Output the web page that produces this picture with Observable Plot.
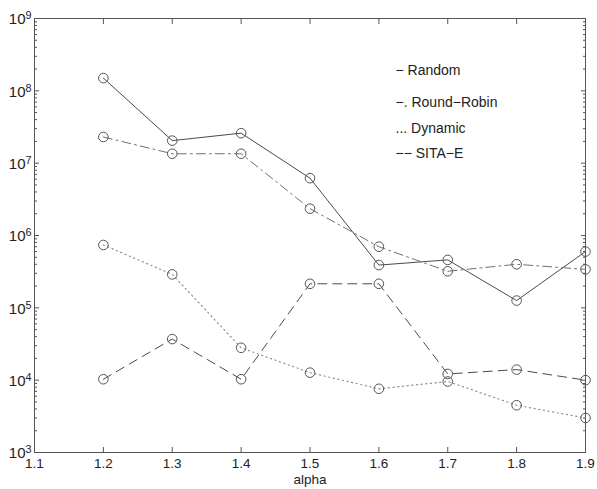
<!DOCTYPE html>
<html>
<head>
<meta charset="utf-8">
<script src="https://cdn.jsdelivr.net/npm/d3@7"></script>
<script src="https://cdn.jsdelivr.net/npm/@observablehq/plot@0.6"></script>
<style>
  html, body { margin: 0; padding: 0; background: #fff; }
  #chart svg { display: block; }
</style>
</head>
<body>
<div id="chart"></div>
<script>
// ---- data ----
const alpha = [1.2, 1.3, 1.4, 1.5, 1.6, 1.7, 1.8, 1.9];
const seriesNames = ["Random", "Round-Robin", "Dynamic", "SITA-E"];
const randomVals = [1.5e8, 2.05e7, 2.6e7, 6.2e6, 3.9e5, 4.6e5, 1.26e5, 6.0e5];
const roundRobinVals = [2.3e7, 1.35e7, 1.35e7, 2.35e6, 7.0e5, 3.2e5, 4.0e5, 3.4e5];
const dynamicVals = [7.4e5, 2.9e5, 2.8e4, 1.27e4, 7.6e3, 9.6e3, 4.5e3, 3.0e3];
const sitaVals = [1.03e4, 3.7e4, 1.03e4, 2.15e5, 2.15e5, 1.22e4, 1.4e4, 1.0e4];
const xTicks = [1.1, 1.2, 1.3, 1.4, 1.5, 1.6, 1.7, 1.8, 1.9];
const yTicks = [1e3, 1e4, 1e5, 1e6, 1e7, 1e8, 1e9];
const legendLabels = ["\u2212 Random", "\u2212. Round\u2212Robin", "... Dynamic", "\u2212\u2212 SITA\u2212E"];

// ---- build table ----
const valueSets = [randomVals, roundRobinVals, dynamicVals, sitaVals];
const rows = [];
seriesNames.forEach((name, i) => {
  alpha.forEach((a, j) => rows.push({series: name, alpha: a, value: valueSets[i][j]}));
});
const yMinor = [];
for (let k = 3; k < 9; k++) for (let m = 2; m <= 9; m++) yMinor.push(m * Math.pow(10, k));

const styles = {
  "Random": {stroke: "#4a4a4a", dash: null, width: 1},
  "Round-Robin": {stroke: "#707070", dash: "9,4,2,4", width: 1},
  "Dynamic": {stroke: "#909090", dash: "1.2,3.5", width: 1.2},
  "SITA-E": {stroke: "#4a4a4a", dash: "9,6", width: 1}
};

const font = "Liberation Sans, Arial, sans-serif";
const axisColor = "#555";
const T = 5, t = 3;
const blank = () => "";

const marks = [
  Plot.frame({stroke: axisColor, strokeWidth: 1}),
  ...seriesNames.map(name => Plot.line(rows.filter(r => r.series === name), {
    x: "alpha", y: "value", stroke: styles[name].stroke,
    strokeDasharray: styles[name].dash, strokeWidth: styles[name].width
  })),
  Plot.dot(rows, {x: "alpha", y: "value", r: 4.8, stroke: "#555", fill: "none", strokeWidth: 1}),
  // inward ticks (outward ticks shifted inside the frame)
  Plot.axisX({anchor: "bottom", ticks: xTicks, tickSize: T, dy: -T, tickFormat: blank, stroke: axisColor, label: null}),
  Plot.axisX({anchor: "top", ticks: xTicks, tickSize: T, dy: T, tickFormat: blank, stroke: axisColor, label: null}),
  Plot.axisY({anchor: "left", ticks: yTicks, tickSize: T, dx: T, tickFormat: blank, stroke: axisColor, label: null}),
  Plot.axisY({anchor: "right", ticks: yTicks, tickSize: T, dx: -T, tickFormat: blank, stroke: axisColor, label: null}),
  Plot.axisY({anchor: "left", ticks: yMinor, tickSize: t, dx: t, tickFormat: blank, stroke: axisColor, label: null}),
  Plot.axisY({anchor: "right", ticks: yMinor, tickSize: t, dx: -t, tickFormat: blank, stroke: axisColor, label: null}),
  // labels
  Plot.axisX({anchor: "bottom", ticks: xTicks, tickSize: 0, tickPadding: 6, tickFormat: d => d.toFixed(1), label: null, fontSize: 13.5, fill: "#222"}),
  Plot.axisY({anchor: "left", ticks: yTicks, tickSize: 0, tickPadding: 3, tickFormat: d => "10^" + Math.round(Math.log10(d)), label: null, fontSize: 15, fill: "#222", dy: 1}),
  Plot.text(["alpha"], {text: d => d, frameAnchor: "bottom", dy: 31, fontSize: 13.5, fill: "#222"}),
  // legend
  ...legendLabels.map((lab, i) => Plot.text([lab], {
    text: d => d, frameAnchor: "top-left", textAnchor: "start", lineAnchor: "middle",
    dx: 361, dy: [52, 84, 110, 135][i], fontSize: 14, fill: "#222"
  }))
];

const chart = Plot.plot({
  width: 597,
  height: 489,
  marginLeft: 34,
  marginRight: 12,
  marginTop: 18,
  marginBottom: 37,
  style: {fontFamily: font, background: "#fff"},
  x: {domain: [1.1, 1.9]},
  y: {type: "log", domain: [1e3, 1e9]},
  marks
});
// render exponents as raised text
chart.querySelectorAll("text").forEach(el => {
  const m = /^10\^(\d+)$/.exec(el.textContent);
  if (m) {
    el.textContent = "10";
    const ts = document.createElementNS("http://www.w3.org/2000/svg", "tspan");
    ts.setAttribute("dy", "-0.45em");
    ts.setAttribute("font-size", "0.72em");
    ts.textContent = m[1];
    el.appendChild(ts);
  }
});
document.getElementById("chart").appendChild(chart);
</script>
</body>
</html>
